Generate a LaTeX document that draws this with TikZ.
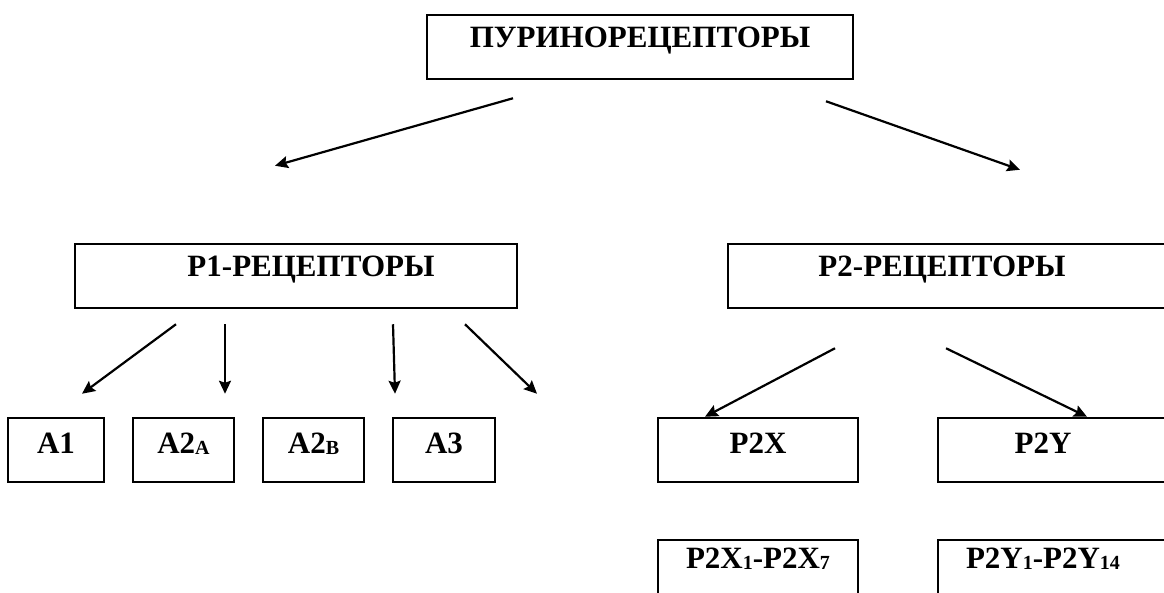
\documentclass[tikz,border=0pt]{standalone}
\usepackage{fontspec}
\setmainfont{Liberation Serif}
\usetikzlibrary{arrows.meta,calc}
\newcommand{\lowidx}[1]{\raisebox{-1.5pt}{\fontsize{20}{20}\selectfont #1}}

\begin{document}
\begin{tikzpicture}[
  x=1pt, y=-1pt,
  box/.style={draw, line width=2.5pt, inner sep=0pt, minimum height=64pt, text height=32pt, text depth=32pt, font=\fontsize{31}{36}\selectfont\bfseries},
  lowrow/.style={text height=35pt, text depth=29pt},
  subrow/.style={text height=28pt, text depth=36pt},
  arrow/.style={-{Stealth[length=13pt, width=12pt, inset=2pt]}, line width=2.2pt},
]
\clip (0,0) rectangle (1164,592);

% top
\node[box, minimum width=426pt] (puri) at (640,47) {ПУРИНОРЕЦЕПТОРЫ};

% receptor classes
\node[box, minimum width=442pt] (p1) at (296,276) {\hspace*{30pt}P1-РЕЦЕПТОРЫ};
\node[box, minimum width=442pt] (p2) at (949,276) {\hspace*{-14pt}P2-РЕЦЕПТОРЫ};

% subtypes
\node[box, lowrow, minimum width=96pt] (a1) at (56,450) {A1};
\node[box, lowrow, minimum width=101pt] (a2a) at (183.5,450) {A2\lowidx{A}};
\node[box, lowrow, minimum width=101pt] (a2b) at (313.5,450) {A2\lowidx{B}};
\node[box, lowrow, minimum width=102pt] (a3) at (444,450) {A3};
\node[box, lowrow, minimum width=200pt] (p2x) at (758,450) {P2X};
\node[box, lowrow, minimum width=232pt] (p2y) at (1054,450) {\hspace*{-22pt}P2Y};

% families
\node[box, subrow, minimum width=200pt] (p2xfam) at (758,572) {P2X\lowidx{1}-P2X\lowidx{7}};
\node[box, subrow, minimum width=232pt] (p2yfam) at (1054,572) {\hspace*{-22pt}P2Y\lowidx{1}-P2Y\lowidx{14}};

\draw[arrow] ($(puri.south)+(-127,18)$) -- ($(p1.north)+(-21,-77)$);
\draw[arrow] ($(puri.south)+(186,21)$) -- ($(p2.north)+(71,-73)$);

\draw[arrow] ($(p1.south)+(-120,15)$) -- ($(a1.north)+(26,-23)$);
\draw[arrow] ($(p1.south)+(-71,15)$) -- ($(a2a.north)+(41.5,-23)$);
\draw[arrow] ($(p1.south)+(97,15)$) -- ($(a2b.north)+(81.5,-23)$);
\draw[arrow] ($(p1.south)+(169,15)$) -- ($(a3.north)+(93,-23)$);

\draw[arrow] ($(p2.south)+(-114,39)$) -- ($(p2x.north)+(-53,0)$);
\draw[arrow] ($(p2.south)+(-3,39)$) -- ($(p2y.north)+(33,0)$);

\end{tikzpicture}
\end{document}
